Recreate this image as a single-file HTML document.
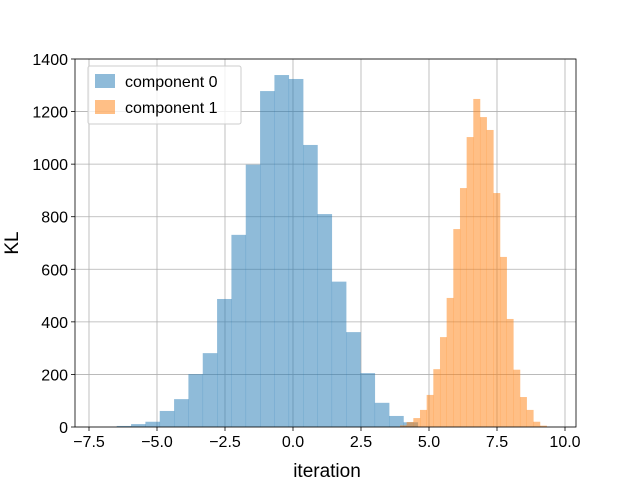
<!DOCTYPE html>
<html><head><meta charset="utf-8"><style>
html,body{margin:0;padding:0;background:#fff;}
svg{display:block;font-family:"Liberation Sans","DejaVu Sans",sans-serif;}
</style></head><body>
<svg id="chart" width="640" height="480" viewBox="0 0 640 480">
<g id="grid"></g>
<g id="bars"></g>
<g id="axes"></g>
<text x="327" y="477" font-size="19" text-anchor="middle">iteration</text>
<text transform="translate(18,243) rotate(-90)" font-size="19" text-anchor="middle">KL</text>
<g>
<rect x="88" y="66" width="153" height="58" fill="#fff" fill-opacity="0.8" stroke="#ccc" rx="2"/>
<g>
<rect x="95" y="74" width="20" height="14" fill="#1f77b4" fill-opacity="0.5"/>
<text x="125" y="87" font-size="16">component 0</text></g>
<g>
<rect x="95" y="100" width="20" height="14" fill="#ff7f0e" fill-opacity="0.5"/>
<text x="125" y="113" font-size="16">component 1</text></g>
</g>
</svg>
<script>
const xTicks = [-7.5, -5.0, -2.5, 0.0, 2.5, 5.0, 7.5, 10.0];
const xTickLabels = ["\u22127.5", "\u22125.0", "\u22122.5", "0.0", "2.5", "5.0", "7.5", "10.0"];
const yTicks = [0, 200, 400, 600, 800, 1000, 1200, 1400];
const comp0Start = -6.48;
const comp0Width = 0.527;
const comp0Counts = [4, 11, 20, 61, 106, 201, 281, 487, 731, 998, 1278, 1339, 1324, 1073, 810, 553, 361, 205, 92, 42, 18];
const comp1Start = 3.934;
const comp1Width = 0.245;
const comp1Counts = [6, 19, 34, 65, 122, 220, 342, 491, 753, 909, 1103, 1248, 1179, 1130, 890, 647, 411, 218, 114, 65, 20, 5];

const L = 75, R = 576, T = 59, B = 427;
const xmin = -8.0, xmax = 10.44;
function X(v){ return 89 + (v + 7.5) * (476 / 17.5); }
function Y(v){ return B - v * ((B - T) / 1400); }
const NS = "http://www.w3.org/2000/svg";
function mk(tag, attrs, parent){ const e = document.createElementNS(NS, tag); for (const k in attrs) e.setAttribute(k, attrs[k]); parent.appendChild(e); return e; }
const grid = document.getElementById('grid'), bars = document.getElementById('bars'), axes = document.getElementById('axes');

xTicks.forEach((t, i) => {
  const gl = mk('line', {x1: X(t), x2: X(t), y1: T, y2: B, stroke: '#b0b0b0', 'stroke-width': 0.8}, grid);
  
  
  const tk = mk('line', {x1: X(t), x2: X(t), y1: B, y2: B + 4, stroke: '#000', 'stroke-width': 0.8}, axes);
  
  
  const tx = mk('text', {x: X(t), y: B + 20, 'font-size': 16, 'text-anchor': 'middle'}, axes);
  tx.textContent = xTickLabels[i];
  
  
});
yTicks.forEach(t => {
  const gl = mk('line', {x1: L, x2: R, y1: Y(t), y2: Y(t), stroke: '#b0b0b0', 'stroke-width': 0.8}, grid);
  
  
  const tk = mk('line', {x1: L - 4, x2: L, y1: Y(t), y2: Y(t), stroke: '#000', 'stroke-width': 0.8}, axes);
  
  
  const tx = mk('text', {x: L - 7, y: Y(t) + 6, 'font-size': 16, 'text-anchor': 'end'}, axes);
  tx.textContent = String(t);
  
  
});
function drawHist(start, width, counts, color, name){
  counts.forEach((c, i) => {
    const x0 = X(start + i * width), x1 = X(start + (i + 1) * width);
    const r = mk('rect', {x: x0, y: Y(c), width: x1 - x0 + 0.3, height: B - Y(c), fill: color, 'fill-opacity': 0.5}, bars);
    
    
  });
}
drawHist(comp0Start, comp0Width, comp0Counts, '#1f77b4', 'component-0');
drawHist(comp1Start, comp1Width, comp1Counts, '#ff7f0e', 'component-1');
const frame = mk('rect', {x: L, y: T, width: R - L, height: B - T, fill: 'none', stroke: '#000', 'stroke-width': 0.8}, axes);


</script>
</body></html>
